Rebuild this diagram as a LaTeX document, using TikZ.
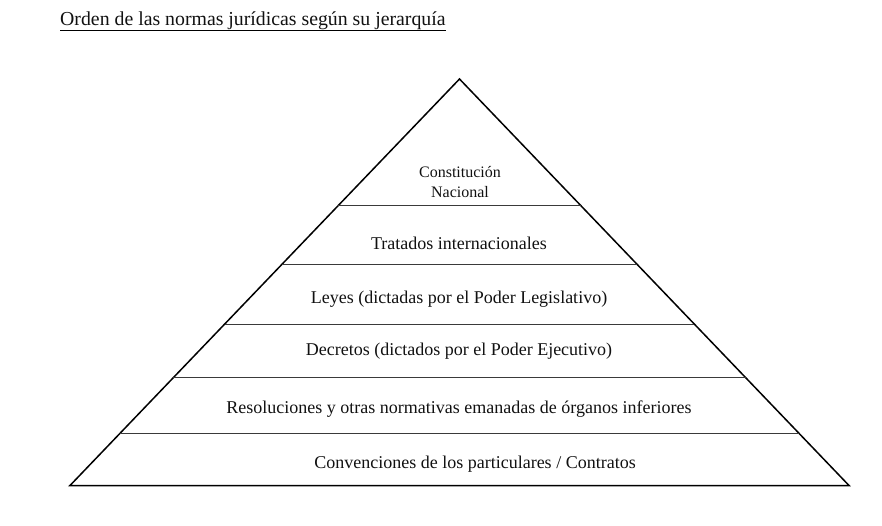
\documentclass[tikz,border=0pt]{standalone}
\usepackage{fontspec}
\setmainfont{Liberation Serif}
\usetikzlibrary{calc}
\definecolor{outlineblack}{HTML}{000000}
\definecolor{levelgray}{HTML}{3A3A3A}
\definecolor{textblack}{HTML}{111111}

\begin{document}
\begin{tikzpicture}[
    x=1pt, y=-1pt,
    every node/.style={font=\fontsize{18}{20}\selectfont, text=textblack},
    outline/.style={draw=outlineblack, line width=1.5pt, line join=miter},
    level/.style={draw=levelgray, line width=1pt},
    tier/.style={anchor=base, inner sep=0pt, align=center}
]
\useasboundingbox (0,0) rectangle (882,525);

% piramide
\coordinate (apex) at (459.5,79);
\coordinate (bl) at (70,485.5);
\coordinate (br) at (849,485.5);

\draw[outline] (bl) -- (apex) -- (br) -- cycle;

% divisiones
\foreach \t in {0.3124,0.4551,0.6027,0.7355,0.8721}
    \draw[level] ($(apex)!\t!(bl)$) -- ($(apex)!\t!(br)$);

% titulo
\node[anchor=base west, inner sep=0pt, font=\fontsize{19.8}{22}\selectfont] (titulo) at (60,25)
    {Orden de las normas jurídicas según su jerarquía};
\draw[line width=0.9pt] ($(titulo.base west)+(0,5.5)$) -- ($(titulo.base east)+(0,5.5)$);

% niveles
\node[tier, font=\fontsize{16}{20}\selectfont] (constitucion) at (460,197) {Constitución\\Nacional};
\node[tier] (tratados) at (459,249) {Tratados internacionales};
\node[tier] (leyes) at (459,303) {Leyes (dictadas por el Poder Legislativo)};
\node[tier] (decretos) at (459,355) {Decretos (dictados por el Poder Ejecutivo)};
\node[tier] (resoluciones) at (459,413) {Resoluciones y otras normativas emanadas de órganos inferiores};
\node[tier] (convenciones) at (475,468) {Convenciones de los particulares / Contratos};

\end{tikzpicture}
\end{document}
